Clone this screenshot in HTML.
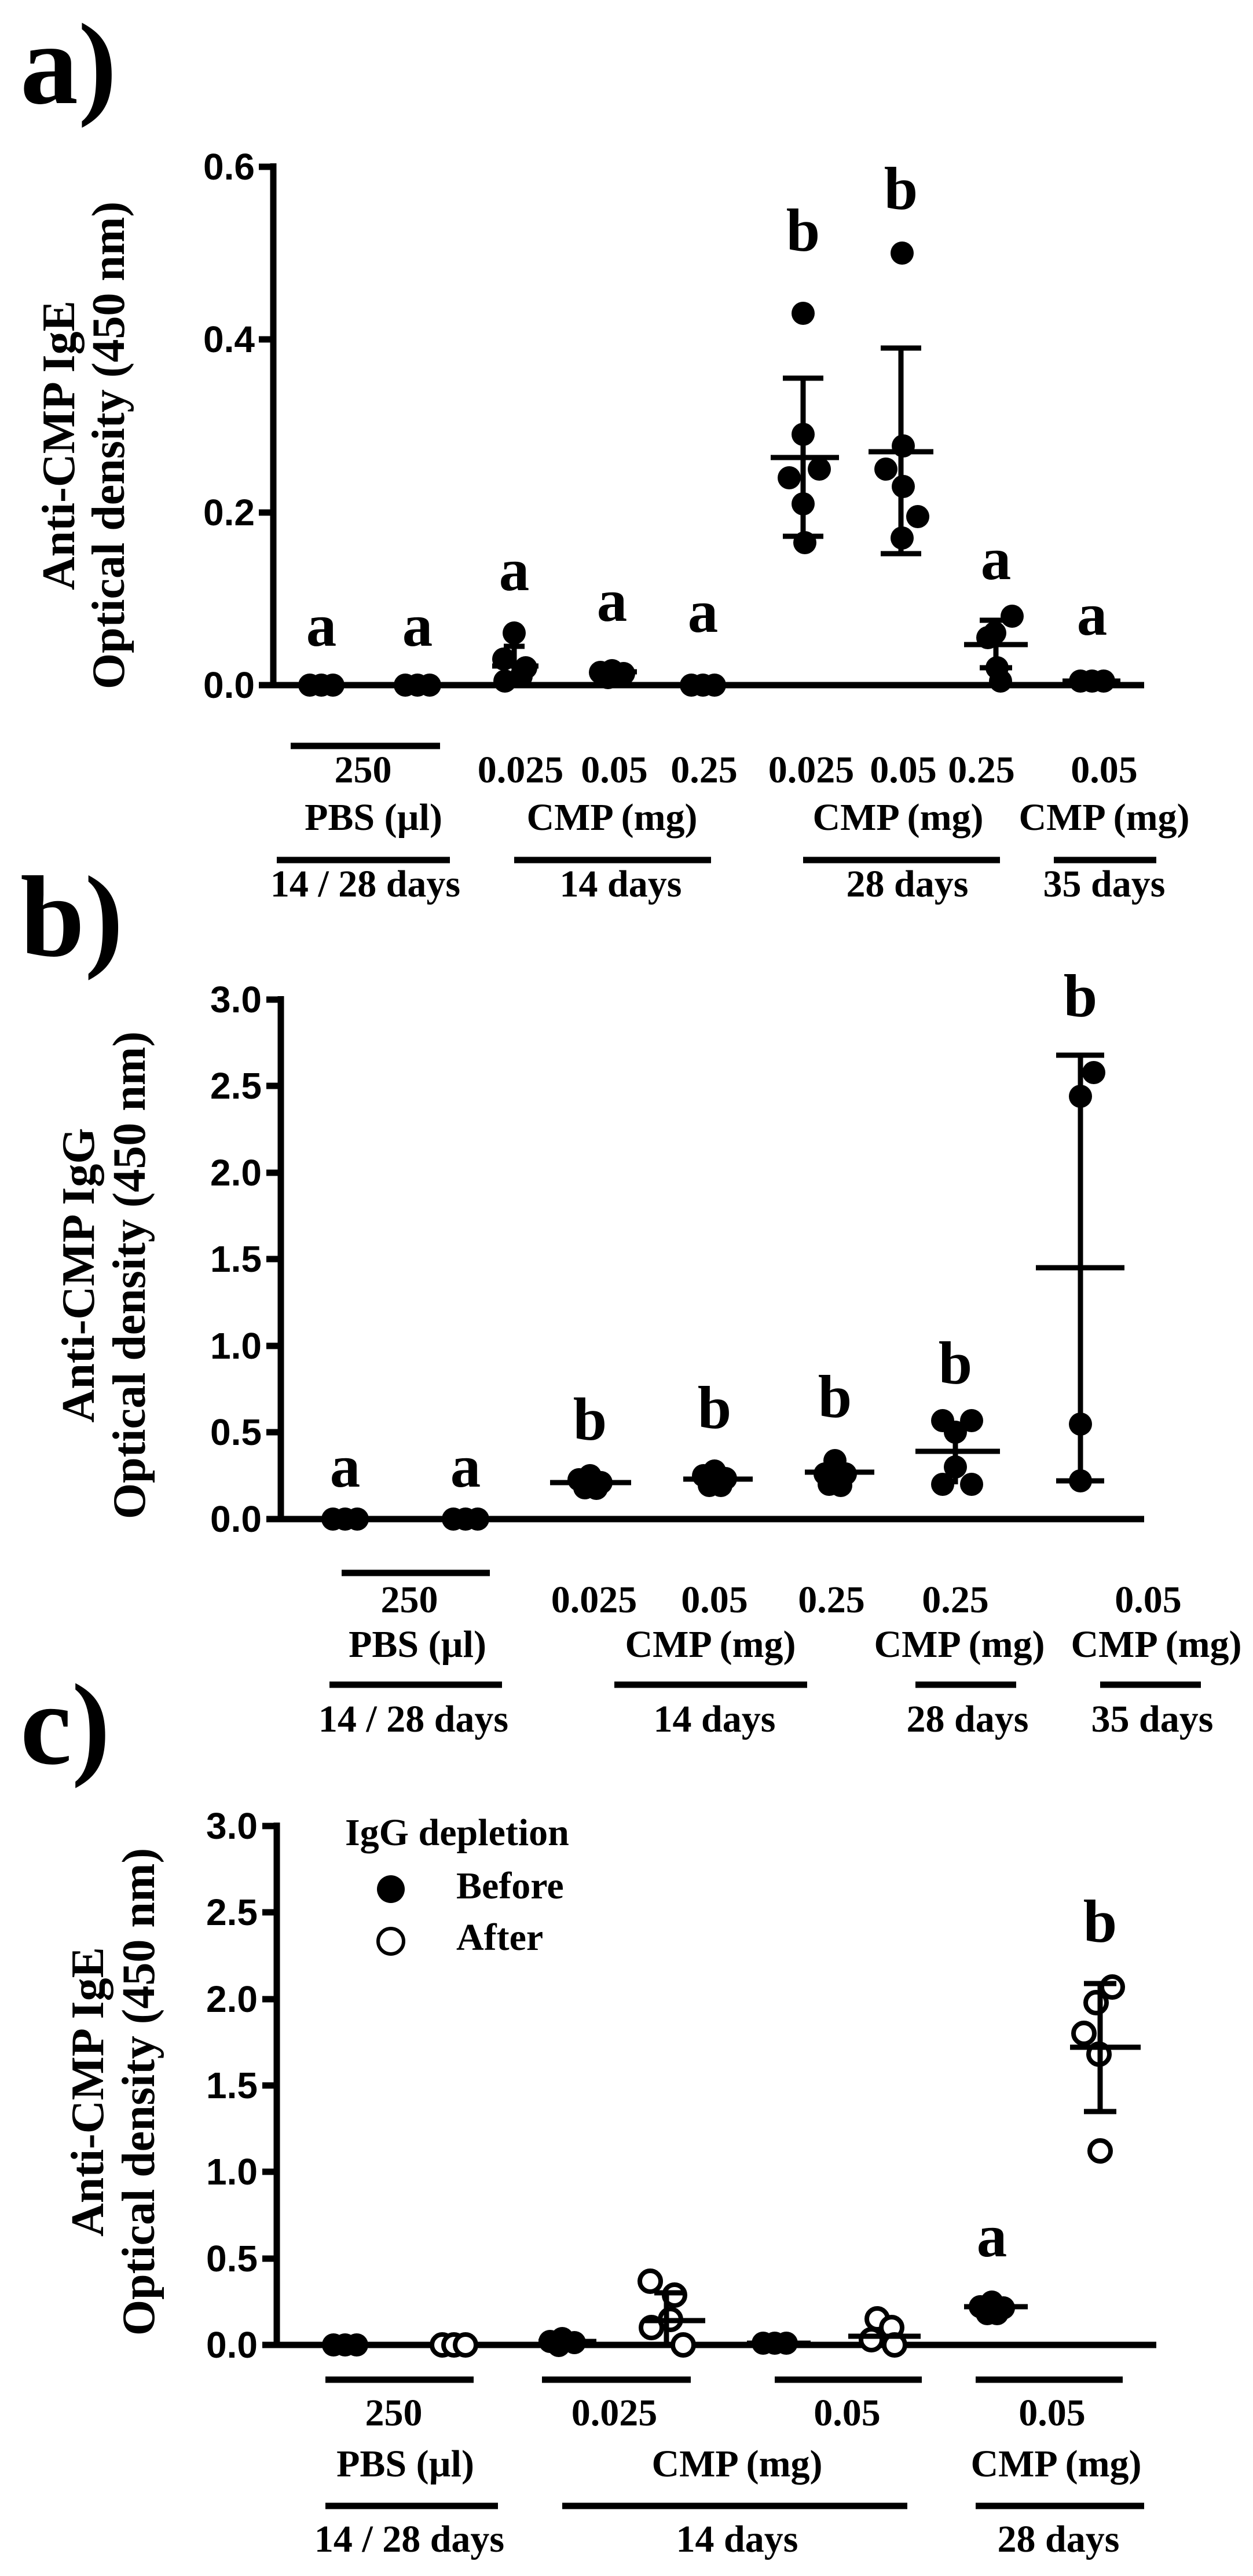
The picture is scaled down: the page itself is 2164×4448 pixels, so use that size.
<!DOCTYPE html>
<html><head><meta charset="utf-8"><style>
html,body{margin:0;padding:0;background:#fff}
svg{display:block}
.t{font-family:"Liberation Sans Narrow","Liberation Sans",sans-serif;font-weight:bold;font-size:64px;text-anchor:end}
.s{font-family:"Liberation Serif",serif;font-size:66px;font-weight:600;text-anchor:middle}
.l{font-family:"Liberation Serif",serif;font-weight:bold;font-size:105px;text-anchor:middle}
.p{font-family:"Liberation Serif",serif;font-weight:bold;font-size:200px}
.y{font-family:"Liberation Serif",serif;font-weight:bold;font-size:80px;text-anchor:middle}
</style></head><body>
<svg width="2164" height="4448" viewBox="0 0 2164 4448" xmlns="http://www.w3.org/2000/svg">
<g stroke="#000" stroke-width="11" fill="none">
<path d="M472 282V1183H1976M447 288H472M447 586H472M447 885H472M447 1183H472"/>
<path d="M485 1720V2623H1976M460 1726H485M460 1875H485M460 2025H485M460 2174H485M460 2324H485M460 2473H485M460 2623H485"/>
<path d="M478 3147V4049H1997M453 3153H478M453 3302H478M453 3452H478M453 3601H478M453 3750H478M453 3900H478M453 4049H478"/>
<path d="M502 1288H760M478 1485H777M888 1485H1228M1387 1485H1727M1820 1485H1997"/>
<path d="M590 2716H846M569 2909H867M1061 2909H1394M1581 2909H1755M1900 2909H2074"/>
<path d="M562 4109H818M936 4109H1193M1338 4109H1592M1685 4109H1939M562 4327H860M971 4327H1567M1685 4327H1976"/>
</g>
<text class="p" x="35" y="178">a)</text>
<text class="p" x="35" y="1650">b)</text>
<text class="p" x="35" y="3045">c)</text>
<g class="t">
<text x="440" y="310">0.6</text><text x="440" y="608">0.4</text><text x="440" y="907">0.2</text><text x="440" y="1205">0.0</text>
<text x="452" y="1748">3.0</text><text x="452" y="1897">2.5</text><text x="452" y="2047">2.0</text><text x="452" y="2196">1.5</text><text x="452" y="2346">1.0</text><text x="452" y="2495">0.5</text><text x="452" y="2645">0.0</text>
<text x="445" y="3175">3.0</text><text x="445" y="3324">2.5</text><text x="445" y="3474">2.0</text><text x="445" y="3623">1.5</text><text x="445" y="3772">1.0</text><text x="445" y="3922">0.5</text><text x="445" y="4071">0.0</text>
</g>
<g class="y">
<text transform="translate(128,769) rotate(-90)">Anti-CMP IgE</text>
<text transform="translate(214,769) rotate(-90)">Optical density (450 nm)</text>
<text transform="translate(162,2202) rotate(-90)">Anti-CMP IgG</text>
<text transform="translate(250,2202) rotate(-90)">Optical density (450 nm)</text>
<text transform="translate(178,3612) rotate(-90)">Anti-CMP IgE</text>
<text transform="translate(266,3612) rotate(-90)">Optical density (450 nm)</text>
</g>
<g class="s">
<text x="627" y="1351">250</text><text x="899" y="1351">0.025</text><text x="1061" y="1351">0.05</text><text x="1216" y="1351">0.25</text><text x="1401" y="1351">0.025</text><text x="1560" y="1351">0.05</text><text x="1695" y="1351">0.25</text><text x="1907" y="1351">0.05</text>
<text x="645" y="1433">PBS (µl)</text><text x="1057" y="1433">CMP (mg)</text><text x="1551" y="1433">CMP (mg)</text><text x="1907" y="1433">CMP (mg)</text>
<text x="631" y="1548">14 / 28 days</text><text x="1072" y="1548">14 days</text><text x="1567" y="1548">28 days</text><text x="1907" y="1548">35 days</text>
<text x="707" y="2784">250</text><text x="1026" y="2784">0.025</text><text x="1234" y="2784">0.05</text><text x="1436" y="2784">0.25</text><text x="1650" y="2784">0.25</text><text x="1983" y="2784">0.05</text>
<text x="721" y="2861">PBS (µl)</text><text x="1227" y="2861">CMP (mg)</text><text x="1657" y="2861">CMP (mg)</text><text x="1997" y="2861">CMP (mg)</text>
<text x="714" y="2990">14 / 28 days</text><text x="1234" y="2990">14 days</text><text x="1671" y="2990">28 days</text><text x="1990" y="2990">35 days</text>
<text x="680" y="4188">250</text><text x="1061" y="4188">0.025</text><text x="1463" y="4188">0.05</text><text x="1817" y="4188">0.05</text>
<text x="700" y="4276">PBS (µl)</text><text x="1273" y="4276">CMP (mg)</text><text x="1824" y="4276">CMP (mg)</text>
<text x="707" y="4406">14 / 28 days</text><text x="1273" y="4406">14 days</text><text x="1828" y="4406">28 days</text>
</g>
<g class="l">
<text x="555" y="1115">a</text><text x="721" y="1115">a</text><text x="888" y="1019">a</text><text x="1057" y="1072">a</text><text x="1214" y="1091">a</text><text x="1387" y="433">b</text><text x="1556" y="361">b</text><text x="1720" y="1000">a</text><text x="1886" y="1096">a</text>
<text x="596" y="2567">a</text><text x="804" y="2567">a</text><text x="1019" y="2486">b</text><text x="1234" y="2466">b</text><text x="1442" y="2447">b</text><text x="1650" y="2389">b</text><text x="1866" y="1755">b</text>
<text x="1713" y="3896">a</text><text x="1900" y="3353">b</text>
</g>
<g font-family="Liberation Serif,serif" font-size="66" font-weight="600">
<text x="596" y="3186">IgG depletion</text><text x="788" y="3278">Before</text><text x="788" y="3367">After</text>
</g>
<circle cx="675" cy="3262" r="24" fill="#000"/>
<circle cx="675" cy="3352" r="22" fill="#fff" stroke="#000" stroke-width="6"/>
<g fill="#000">
<circle cx="535" cy="1183" r="20"/><circle cx="555" cy="1183" r="20"/><circle cx="575" cy="1183" r="20"/>
<circle cx="700" cy="1183" r="20"/><circle cx="721" cy="1183" r="20"/><circle cx="742" cy="1183" r="20"/>
<circle cx="888" cy="1093" r="20"/><circle cx="870" cy="1138" r="20"/><circle cx="900" cy="1168" r="20"/><circle cx="872" cy="1176" r="20"/><circle cx="908" cy="1153" r="20"/>
<circle cx="1037" cy="1161" r="20"/><circle cx="1057" cy="1158" r="20"/><circle cx="1077" cy="1163" r="20"/><circle cx="1050" cy="1170" r="20"/>
<circle cx="1194" cy="1183" r="20"/><circle cx="1214" cy="1183" r="20"/><circle cx="1234" cy="1183" r="20"/>
<circle cx="1387" cy="541" r="20"/><circle cx="1387" cy="750" r="20"/><circle cx="1415" cy="810" r="20"/><circle cx="1363" cy="825" r="20"/><circle cx="1387" cy="870" r="20"/><circle cx="1390" cy="937" r="20"/>
<circle cx="1558" cy="437" r="20"/><circle cx="1560" cy="770" r="20"/><circle cx="1530" cy="810" r="20"/><circle cx="1560" cy="840" r="20"/><circle cx="1585" cy="892" r="20"/><circle cx="1558" cy="929" r="20"/>
<circle cx="1748" cy="1064" r="20"/><circle cx="1718" cy="1093" r="20"/><circle cx="1706" cy="1101" r="20"/><circle cx="1722" cy="1153" r="20"/><circle cx="1728" cy="1176" r="20"/>
<circle cx="1866" cy="1176" r="20"/><circle cx="1886" cy="1176" r="20"/><circle cx="1906" cy="1176" r="20"/>
<circle cx="575" cy="2623" r="20"/><circle cx="596" cy="2623" r="20"/><circle cx="617" cy="2623" r="20"/>
<circle cx="783" cy="2623" r="20"/><circle cx="804" cy="2623" r="20"/><circle cx="825" cy="2623" r="20"/>
<circle cx="1000" cy="2555" r="20"/><circle cx="1019" cy="2548" r="20"/><circle cx="1038" cy="2560" r="20"/><circle cx="1010" cy="2569" r="20"/><circle cx="1030" cy="2570" r="20"/>
<circle cx="1215" cy="2548" r="20"/><circle cx="1234" cy="2540" r="20"/><circle cx="1253" cy="2553" r="20"/><circle cx="1225" cy="2565" r="20"/><circle cx="1245" cy="2565" r="20"/>
<circle cx="1442" cy="2522" r="20"/><circle cx="1425" cy="2545" r="20"/><circle cx="1460" cy="2545" r="20"/><circle cx="1432" cy="2563" r="20"/><circle cx="1452" cy="2565" r="20"/>
<circle cx="1628" cy="2453" r="20"/><circle cx="1678" cy="2453" r="20"/><circle cx="1650" cy="2473" r="20"/><circle cx="1650" cy="2533" r="20"/><circle cx="1628" cy="2563" r="20"/><circle cx="1678" cy="2563" r="20"/>
<circle cx="1889" cy="1852" r="20"/><circle cx="1866" cy="1893" r="20"/><circle cx="1866" cy="2459" r="20"/><circle cx="1866" cy="2557" r="20"/>
<circle cx="576" cy="4049" r="20"/><circle cx="596" cy="4049" r="20"/><circle cx="616" cy="4049" r="20"/>
<circle cx="950" cy="4043" r="20"/><circle cx="971" cy="4038" r="20"/><circle cx="992" cy="4045" r="20"/><circle cx="965" cy="4050" r="20"/>
<circle cx="1318" cy="4046" r="20"/><circle cx="1338" cy="4046" r="20"/><circle cx="1358" cy="4046" r="20"/>
<circle cx="1693" cy="3983" r="20"/><circle cx="1713" cy="3975" r="20"/><circle cx="1733" cy="3985" r="20"/><circle cx="1705" cy="3995" r="20"/><circle cx="1722" cy="3995" r="20"/>
</g>
<g fill="#fff" stroke="#000" stroke-width="8">
<circle cx="764" cy="4049" r="18"/><circle cx="784" cy="4049" r="18"/><circle cx="804" cy="4049" r="18"/>
<circle cx="1123" cy="3939" r="18"/><circle cx="1165" cy="3963" r="18"/><circle cx="1125" cy="4019" r="18"/><circle cx="1180" cy="4049" r="18"/><circle cx="1158" cy="4005" r="18"/>
<circle cx="1515" cy="4004" r="18"/><circle cx="1540" cy="4019" r="18"/><circle cx="1505" cy="4040" r="18"/><circle cx="1545" cy="4049" r="18"/>
<circle cx="1921" cy="3431" r="18"/><circle cx="1893" cy="3458" r="18"/><circle cx="1872" cy="3511" r="18"/><circle cx="1898" cy="3547" r="18"/><circle cx="1900" cy="3714" r="18"/>
</g>
<g stroke="#000" stroke-width="9" fill="none">
<path d="M515 1183H595M680 1183H762"/>
<path d="M850 1150H930M888 1116V1183M870 1116H906"/>
<path d="M1020 1160H1100M1175 1183H1255"/>
<path d="M1331 790H1449M1387 653V926M1352 653H1422M1352 926H1422"/>
<path d="M1500 780H1612M1556 601V956M1521 601H1591M1521 956H1591"/>
<path d="M1665 1113H1775M1720 1071V1153M1692 1071H1748M1692 1153H1748"/>
<path d="M1835 1176H1935"/>
<path d="M950 2560H1090M1180 2554H1300M1390 2542H1510"/>
<path d="M1581 2506H1727M1650 2459V2563"/>
<path d="M1789 2189H1942M1866 1822V2557M1824 1822H1907M1824 2557H1907"/>
<path d="M930 4043H1030M1110 4007H1218M1151 3959V4049M1130 3959H1185"/>
<path d="M1290 4046H1400M1465 4034H1590M1665 3983H1775"/>
<path d="M1848 3535H1970M1900 3425V3646M1872 3425H1928M1872 3646H1928"/>
</g>
</svg>
</body></html>
